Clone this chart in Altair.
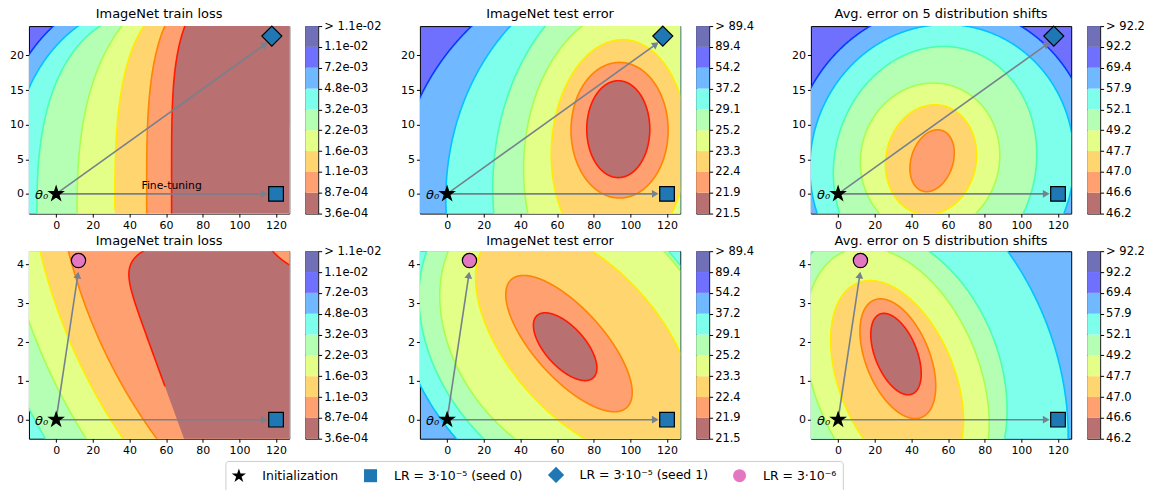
import json
import numpy as np
import pandas as pd
import altair as alt

FONT = "DejaVu Sans"
W, H, CB_W, GAP_W = 261, 188, 13, 70

# ---------------- axes ----------------
X_DOMAIN = [-14.85, 127.2]
Y_DOMAINS = [[-2.85, 24.25], [-0.49, 4.34]]
X_TICKS = [0, 20, 40, 60, 80, 100, 120]
Y_TICKS = [[0, 5, 10, 15, 20], [0, 1, 2, 3, 4]]

TITLES = ["ImageNet train loss", "ImageNet test error", "Avg. error on 5 distribution shifts"]
CBAR_LABELS = [
    ["3.6e-04", "8.7e-04", "1.1e-03", "1.6e-03", "2.2e-03", "3.2e-03", "4.8e-03", "7.2e-03", "1.1e-02", "> 1.1e-02"],
    ["21.5", "21.9", "22.4", "23.3", "25.2", "29.1", "37.2", "54.2", "89.4", "> 89.4"],
    ["46.2", "46.6", "47.0", "47.7", "49.2", "52.1", "57.9", "69.4", "92.2", "> 92.2"],
]

# band fills (lowest band first) and contour line colours
BAND_COLORS = ["#b87070", "#ffa070", "#ffd570", "#e3ff87", "#b5ffb5",
               "#7effec", "#70b8ff", "#7070ff", "#7070b8"]
LINE_COLORS = ["#ff1a00", "#ff8400", "#ffec00", "#a4ff52", "#4affad",
               "#00c2ff", "#003dff", "#0000c5"]
ARROW_COLOR = "#76818e"

# outermost band of every panel
BACKGROUND = [[7, 7, 7], [5, 6, 6]]

# contour regions:
# (band inside, contour level, centre x, centre y, half-width, half-height, tilt deg, squareness)
REG_A = [
    (6, 6, 78.3, -2.88, 113.1, 33.7, 0, 2.5),
    (5, 5, 78.3, -2.88, 104.4, 31.7, 0, 2.5),
    (4, 4, 60.2, -2.88, 70.7, 29.5, 0, 2.5),
    (3, 3, 101.1, -2.88, 89.7, 34.5, 0, 2.5),
    (2, 2, 88.6, -2.88, 56.6, 31.7, 0, 3),
    (1, 1, 92.4, 0.72, 43.0, 28.8, 0, 3),
    (0, 0, 144.6, 0.72, 81.6, 31.5, 0, 4),
]
REG_B = [
    (6, 6, 109.7, -0.72, 137.0, 35.1, 0, 2),
    (5, 5, 109.7, -0.72, 110.4, 34.1, 0, 2),
    (4, 4, 109.7, 0.72, 84.8, 31.4, 0, 2),
    (3, 3, 104.2, 3.6, 62.5, 23.7, 0, 2),
    (2, 2, 93.9, 6.5, 37.0, 15.8, -3, 2),
    (1, 1, 94.1, 9.2, 26.5, 9.8, 0, 2),
    (0, 0, 93.4, 9.35, 17.2, 7.0, 0, 2),
]
REG_C = [
    (6, 6, 56.7, 4.36, 82.4, 23.0, -15, 2),
    (5, 5, 56.7, 4.36, 71.8, 20.2, -15, 2),
    (4, 4, 52.9, 4.36, 54.8, 17.1, -15, 2),
    (3, 3, 50.2, 5.08, 37.8, 11.0, -15, 2),
    (2, 2, 50.7, 4.94, 24.6, 8.0, -12, 2),
    (1, 1, 51.3, 4.79, 11.4, 4.6, -18, 2),
]
REG_D = [
    (4, 4, 292.8, 7.81, 346.1, 16.43, 0, 2),
    (3, 3, 292.8, 7.81, 327.1, 15.53, 0, 2),
    (2, 2, 292.8, 7.81, 310.3, 14.73, 0, 2),
    (1, 1, 292.8, 7.81, 295.3, 14.01, 0, 2),
    (0, 0, 243.1, -0.46, 163.1, 7.74, 20, 20),
    (1, 0, 149.0, 5.70, 42.1, 2.0, 0, 2),
]
REG_E = [
    (5, 5, 68.0, 2.04, 82.7, 5.16, 42, 2),
    (4, 4, 68.0, 2.04, 71.8, 4.52, 42, 2),
    (3, 3, 71.5, 2.19, 65.3, 4.08, 42, 2),
    (2, 2, 75.0, 1.99, 40.8, 3.61, 42, 2),
    (1, 1, 66.5, 1.96, 19.0, 2.22, 42, 2),
    (0, 0, 64.4, 1.88, 10.9, 1.08, 42, 2),
]
REG_F = [
    (5, 5, 32.1, 1.06, 87.0, 5.94, 22, 2),
    (4, 4, 31.0, 1.18, 57.1, 3.87, 22, 2),
    (3, 3, 32.1, 1.06, 45.1, 3.54, 22, 2),
    (2, 2, 32.2, 1.01, 31.5, 2.71, 22, 2),
    (1, 1, 32.6, 1.57, 17.4, 1.63, 22, 2),
    (0, 0, 31.6, 1.69, 11.4, 1.11, 22, 2),
]
REGIONS = [[REG_A, REG_B, REG_C], [REG_D, REG_E, REG_F]]

# ---------------- markers ----------------
LABELS = ["Initialization", "LR = 3·10⁻⁵ (seed 0)", "LR = 3·10⁻⁵ (seed 1)", "LR = 3·10⁻⁶"]
MARKER_COLORS = ["black", "#1f77b4", "#1f77b4", "#e377c2"]
MARKER_SIZES = [164, 216, 256, 205]
START = (0.0, 0.0)
ENDS = [[(120.0, 0.0, 1), (117.7, 22.8, 2)], [(120.0, 0.0, 1), (12.2, 4.1, 3)]]
TIPS = [[(115.4, 0.0), (115.4, 21.9)], [(115.4, 0.0), (12.1, 3.81)]]


def star_path():
    pts = []
    for k in range(10):
        a = np.radians(-90 + 36 * k)
        rr = 1.15 if k % 2 == 0 else 0.44
        pts.append(f"{rr*np.cos(a):.3f},{rr*np.sin(a):.3f}")
    return "M" + " L".join(pts) + " Z"


DIAMOND = "M0,-1.25 L1.25,0 L0,1.25 L-1.25,0 Z"
SHAPES = [star_path(), "square", DIAMOND, "circle"]

LEG = alt.Legend(title=None, orient="none", legendX=197, legendY=436, direction="horizontal",
                 columns=4, symbolStrokeColor="black", symbolStrokeWidth=1.2, symbolSize=170,
                 symbolOpacity=1, labelFont=FONT, labelFontSize=12.5, labelColor="black",
                 strokeColor="#cccccc", fillColor="white", padding=6, cornerRadius=3,
                 columnPadding=22, labelOffset=16)


# ---------------- geometry helpers ----------------
def outline(r, kx, ky, n):
    band, lvl, cx, cy, hw, hh, tilt, sq = r
    t = np.linspace(0.0, 2 * np.pi, n)
    c, s = np.cos(t), np.sin(t)
    u = hw * kx * np.sign(c) * np.abs(c) ** (2.0 / sq)
    v = hh * ky * np.sign(s) * np.abs(s) ** (2.0 / sq)
    return u, v


def to_data(r, u, v, kx, ky):
    band, lvl, cx, cy, hw, hh, tilt, sq = r
    th = np.radians(tilt)
    du = u * np.cos(th) - v * np.sin(th)
    dv = u * np.sin(th) + v * np.cos(th)
    return cx + du / kx, cy + dv / ky


def level_of(r, x, y, kx, ky):
    band, lvl, cx, cy, hw, hh, tilt, sq = r
    th = np.radians(tilt)
    du = (x - cx) * kx
    dv = (y - cy) * ky
    u = du * np.cos(th) + dv * np.sin(th)
    v = -du * np.sin(th) + dv * np.cos(th)
    return np.abs(u / (hw * kx)) ** sq + np.abs(v / (hh * ky)) ** sq


def band_field(x, y, bg, regs, kx, ky):
    b = np.full(np.shape(x), bg)
    for r in regs:
        b = np.where(level_of(r, x, y, kx, ky) < 1.0, r[0], b)
    return b


def area_frame(xb, yb, ydom):
    xs = np.linspace(X_DOMAIN[0] - 0.5, X_DOMAIN[1] + 0.5, 600)
    ext = [xb.min() + 1e-6, xb.max() - 1e-6]
    xs = np.unique(np.concatenate([xs, [e for e in ext if X_DOMAIN[0] - 0.5 < e < X_DOMAIN[1] + 0.5]]))
    x0, x1, y0, y1 = xb[:-1], xb[1:], yb[:-1], yb[1:]
    X = xs[:, None]
    dx = x1 - x0
    hit = ((x0 - X) * (x1 - X) <= 0) & (dx != 0)
    t = (X - x0) / np.where(dx != 0, dx, 1.0)
    yc = y0 + t * (y1 - y0)
    lo = np.where(hit, yc, np.inf).min(axis=1)
    hi = np.where(hit, yc, -np.inf).max(axis=1)
    ok = np.isfinite(lo) & np.isfinite(hi)
    pad = 0.05 * (ydom[1] - ydom[0])
    lo = np.clip(lo[ok], ydom[0] - pad, ydom[1] + pad)
    hi = np.clip(hi[ok], ydom[0] - pad, ydom[1] + pad)
    return pd.DataFrame({"x": xs[ok].round(3), "lo": lo.round(4), "hi": hi.round(4)})


def panel(row, col):
    ydom = Y_DOMAINS[row]
    kx = W / (X_DOMAIN[1] - X_DOMAIN[0])
    ky = H / (ydom[1] - ydom[0])
    regs = REGIONS[row][col]
    bg = BACKGROUND[row][col]

    xsc = alt.Scale(domain=X_DOMAIN, nice=False, zero=False)
    ysc = alt.Scale(domain=ydom, nice=False, zero=False)
    xax = alt.Axis(values=X_TICKS, title=None, grid=False, domain=False, labelOverlap=False)
    yax = alt.Axis(values=Y_TICKS[row], title=None, grid=False, domain=False, labelOverlap=False)

    def X(f):
        return alt.X(f, type="quantitative", scale=xsc, axis=xax)

    def Y(f):
        return alt.Y(f, type="quantitative", scale=ysc, axis=yax)

    layers = []
    line_rows = []
    for k, r in enumerate(regs):
        u, v = outline(r, kx, ky, 1400)
        xb, yb = to_data(r, u, v, kx, ky)
        df = area_frame(xb, yb, ydom)
        if len(df):
            layers.append(
                alt.Chart(df).mark_area(color=BAND_COLORS[r[0]], opacity=1, clip=True, strokeWidth=0)
                .encode(x=X("x"), y=Y("lo"), y2=alt.Y2("hi"))
            )
        rho = np.hypot(u, v) + 1e-9
        xi, yi = to_data(r, u * (1 - 1.5 / rho), v * (1 - 1.5 / rho), kx, ky)
        xo, yo = to_data(r, u * (1 + 1.5 / rho), v * (1 + 1.5 / rho), kx, ky)
        vis = (band_field(xi, yi, bg, regs, kx, ky) == r[0]) & (band_field(xo, yo, bg, regs, kx, ky) != r[0])
        mx, my = 3 / kx, 3 / ky
        vis &= (xb > X_DOMAIN[0] - mx) & (xb < X_DOMAIN[1] + mx) & (yb > ydom[0] - my) & (yb < ydom[1] + my)
        start = vis & ~np.concatenate([[False], vis[:-1]])
        seg = np.cumsum(start)
        for i in np.where(vis)[0]:
            line_rows.append({"x": round(float(xb[i]), 3), "y": round(float(yb[i]), 4),
                              "lvl": int(r[1]), "seg": f"{k}_{seg[i]}", "i": int(i)})
    if line_rows:
        layers.append(
            alt.Chart(pd.DataFrame(line_rows)).mark_line(clip=True, strokeWidth=1.6)
            .encode(x=X("x"), y=Y("y"),
                    stroke=alt.Stroke("lvl:O", scale=alt.Scale(domain=list(range(8)), range=LINE_COLORS), legend=None),
                    detail="seg:N", order="i:Q")
        )

    # arrows
    arrow_rows, head_rows = [], []
    for j, (tx, ty) in enumerate(TIPS[row]):
        ddx, ddy = (tx - START[0]) * kx, (ty - START[1]) * ky
        L = np.hypot(ddx, ddy)
        h = 3.35
        hx, hy = tx - ddx / L * h / kx, ty - ddy / L * h / ky
        arrow_rows += [{"x": START[0], "y": START[1], "s": j, "i": 0}, {"x": hx, "y": hy, "s": j, "i": 1}]
        head_rows.append({"x": hx, "y": hy, "ang": float(np.degrees(np.arctan2(ddx, ddy)))})
    layers.append(
        alt.Chart(pd.DataFrame(arrow_rows)).mark_line(color=ARROW_COLOR, strokeWidth=1.6)
        .encode(x=X("x"), y=Y("y"), detail="s:N", order="i:Q")
    )
    layers.append(
        alt.Chart(pd.DataFrame(head_rows)).mark_point(shape="triangle-up", filled=True, color=ARROW_COLOR,
                                                      size=60, opacity=1)
        .encode(x=X("x"), y=Y("y"), angle=alt.Angle("ang:Q", scale=None))
    )

    # markers
    cscale = alt.Scale(domain=LABELS, range=MARKER_COLORS)
    sscale = alt.Scale(domain=LABELS, range=SHAPES)
    pts = [(START[0], START[1], 0)] + ENDS[row]
    for (px, py, li) in pts:
        layers.append(
            alt.Chart(pd.DataFrame({"x": [px], "y": [py], "label": [LABELS[li]]}))
            .mark_point(filled=True, stroke="black", strokeWidth=1.2, opacity=1, size=MARKER_SIZES[li])
            .encode(x=X("x"), y=Y("y"),
                    color=alt.Color("label:N", scale=cscale, legend=LEG),
                    shape=alt.Shape("label:N", scale=sscale, legend=LEG))
        )

    # texts
    origin = pd.DataFrame({"x": [START[0]], "y": [START[1]]})
    layers.append(
        alt.Chart(origin).mark_text(text="θ₀", align="right", baseline="middle", dx=-8, dy=1,
                                    fontSize=13, fontStyle="italic", color="black")
        .encode(x=X("x"), y=Y("y"))
    )
    if row == 0 and col == 0:
        layers.append(
            alt.Chart(pd.DataFrame({"x": [63.0], "y": [0.0]}))
            .mark_text(text="Fine-tuning", baseline="middle", dy=-8, fontSize=10.8, color="black")
            .encode(x=X("x"), y=Y("y"))
        )

    return alt.layer(*layers).properties(
        width=W, height=H,
        title=alt.TitleParams(TITLES[col], anchor="middle", fontSize=13, fontWeight="normal", offset=3),
        view=alt.ViewBackground(fill=BAND_COLORS[bg], stroke="black", strokeWidth=1),
    )


def cbar(col):
    df = pd.DataFrame({"lo": list(range(9)), "hi": list(range(1, 10)), "col": BAND_COLORS})
    expr = json.dumps(CBAR_LABELS[col], ensure_ascii=False) + "[datum.value]"
    return alt.Chart(df).mark_rect().encode(
        y=alt.Y("lo:Q", scale=alt.Scale(domain=[0, 9], nice=False, zero=False),
                axis=alt.Axis(orient="right", values=list(range(10)), labelExpr=expr, title=None,
                              labelFontSize=11.5, labelOverlap=False, grid=False, domain=False)),
        y2="hi:Q",
        x=alt.value(0), x2=alt.value(CB_W),
        fill=alt.Fill("col:N", scale=None),
    ).properties(width=CB_W, height=H, view=alt.ViewBackground(stroke="black", strokeWidth=1))


def gap():
    return alt.Chart(pd.DataFrame({"v": [0]})).mark_point(opacity=0).encode(
        x=alt.X("v:Q", axis=None), y=alt.Y("v:Q", axis=None)
    ).properties(width=GAP_W, height=H, view=alt.ViewBackground(stroke="transparent", fill="transparent"))


cells = []
for row in range(2):
    for col in range(3):
        cells.append(panel(row, col))
        cells.append(cbar(col))
        if col < 2:
            cells.append(gap())

chart = (
    alt.concat(*cells, columns=8, spacing={"row": 37.7, "column": 16}, bounds="flush")
    .resolve_scale(x="independent", y="independent", color="shared", shape="shared", stroke="independent")
    .properties(padding={"left": 9, "top": 6.5, "right": 5, "bottom": 5})
    .configure(font=FONT)
    .configure_axis(labelFont=FONT, labelFontSize=11, labelColor="black", tickColor="black",
                    tickSize=3.5, tickWidth=1, labelPadding=2, domain=False, grid=False)
    .configure_view(stroke="black", strokeWidth=1)
    .configure_title(font=FONT, color="black")
)

chart.save("out.html", embed_options={"renderer": "svg", "actions": False})
